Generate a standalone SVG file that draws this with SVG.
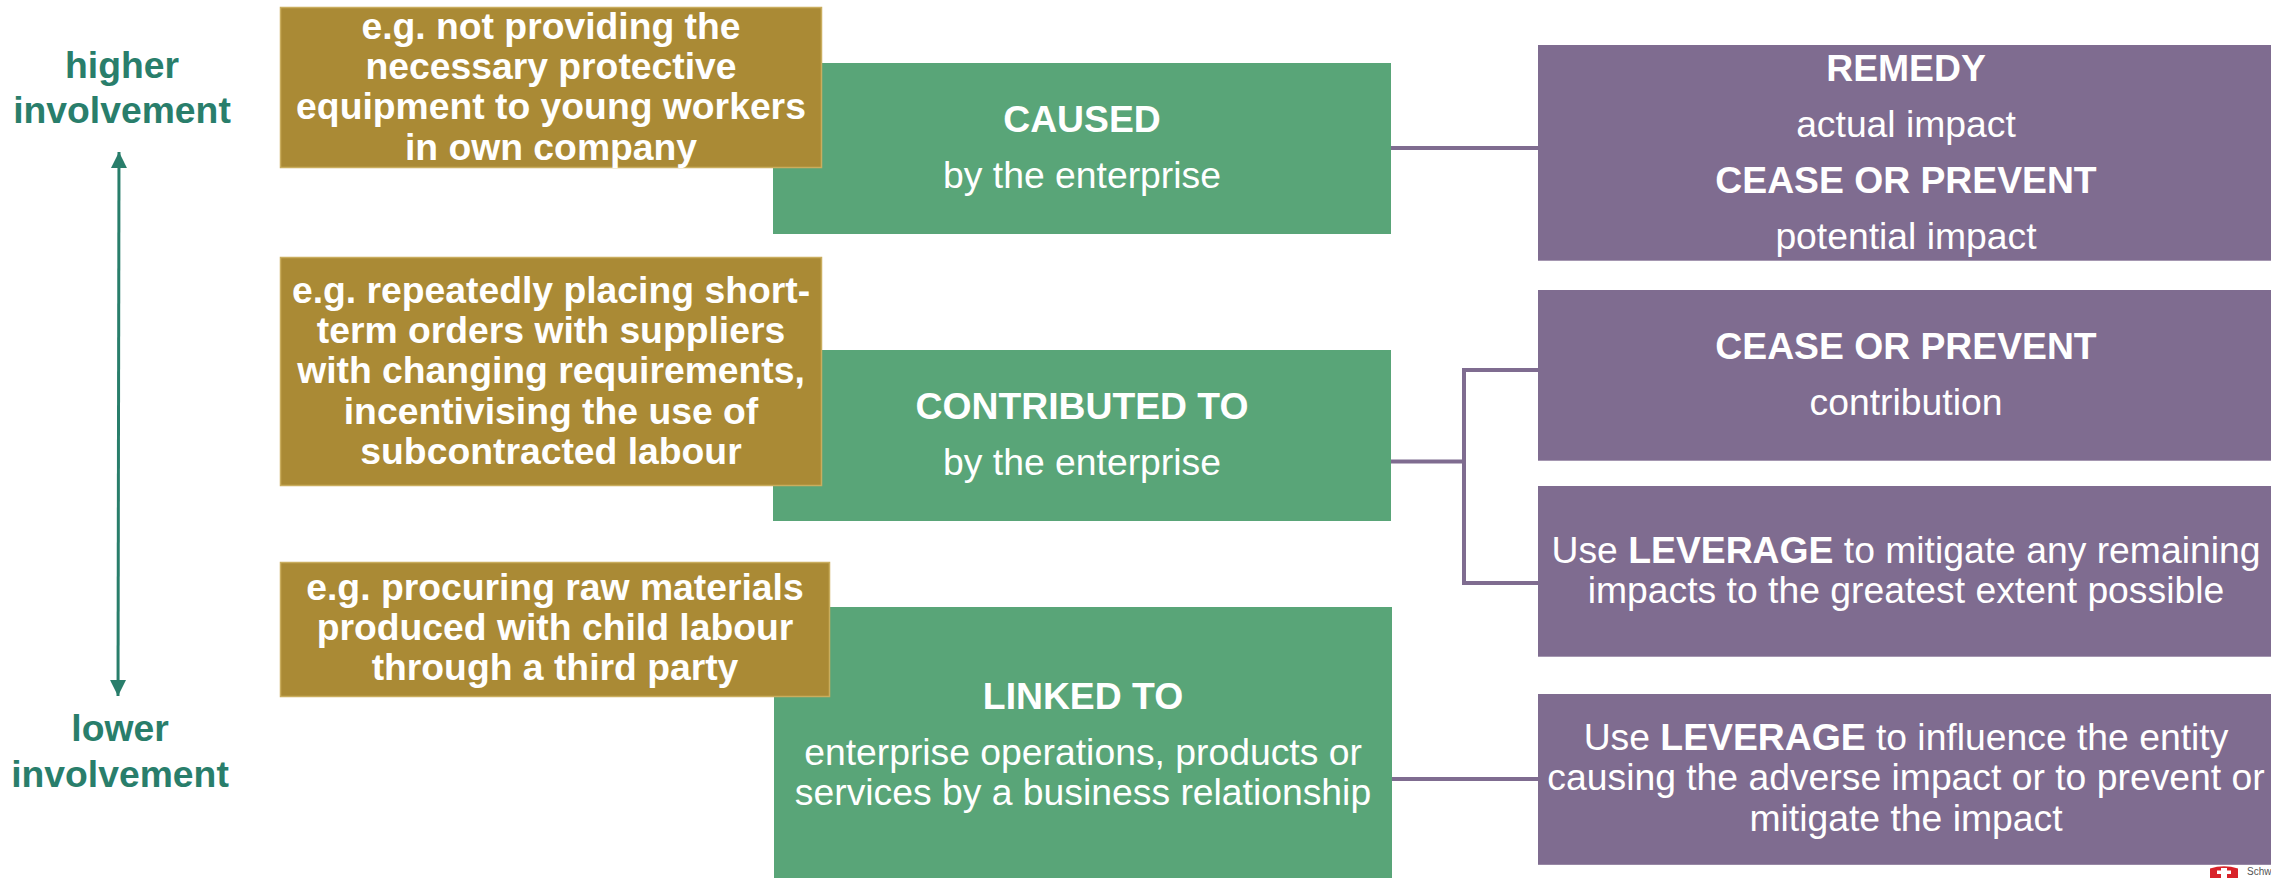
<svg xmlns="http://www.w3.org/2000/svg" width="2271" height="878" viewBox="0 0 2271 878">
<style>
text{font-family:"Liberation Sans",Arial,sans-serif;text-anchor:middle;fill:#fff;font-size:37.3px}
.b{font-weight:700}
.gold{fill:#aa8a35;stroke:#c9ad5e;stroke-width:1.5}
.green{fill:#59a578}
.purple{fill:#7f6c90}
.side{fill:#297e6b;font-weight:700;font-size:37.3px}
.conn{fill:none;stroke:#7f6c90;stroke-width:4}
.axis{stroke:#297e6b;stroke-width:3;fill:none;marker-start:url(#ah);marker-end:url(#ah)}
</style>
<defs><marker id="ah" viewBox="0 0 16 16" refX="16" refY="8" markerWidth="16" markerHeight="16" markerUnits="userSpaceOnUse" orient="auto-start-reverse"><path d="M0 0L16 8L0 16Z" fill="#297e6b"/></marker></defs>
<rect width="2271" height="878" fill="#fff"/>
<g id="connectors">
<path class="conn" d="M1390 148H1538"/>
<path class="conn" d="M1391 461.500H1464M1538 370H1464V583H1538"/>
<path class="conn" d="M1392 779H1538"/>
<path class="axis" d="M119 152L118 696"/>
</g>
<g id="label-higher"><text class="side" x="122" y="78">higher</text><text class="side" x="122" y="122.500">involvement</text></g>
<g id="label-lower"><text class="side" x="120" y="741">lower</text><text class="side" x="120" y="786.500">involvement</text></g>
<g id="caused"><rect class="green" x="773" y="63" width="618" height="171"/><text class="b" x="1082" y="131.500">CAUSED</text><text x="1082" y="187.500">by the enterprise</text></g>
<g id="contributed"><rect class="green" x="773" y="350" width="618" height="171"/><text class="b" x="1082" y="418.500">CONTRIBUTED TO</text><text x="1082" y="474.500">by the enterprise</text></g>
<g id="linked"><rect class="green" x="774" y="607" width="618" height="271"/><text class="b" x="1083" y="708.500">LINKED TO</text><text x="1083" y="764.500">enterprise operations, products or</text><text x="1083" y="804.500">services by a business relationship</text></g>
<g id="example-caused"><rect class="gold" x="280.500" y="7.500" width="541" height="160"/><text class="b" x="551" y="38.500">e.g. not providing the</text><text class="b" x="551" y="78.500">necessary protective</text><text class="b" x="551" y="119">equipment to young workers</text><text class="b" x="551" y="159.500">in own company</text></g>
<g id="example-contributed"><rect class="gold" x="280.500" y="257.500" width="541" height="228"/><text class="b" x="551" y="303">e.g. repeatedly placing short-</text><text class="b" x="551" y="343">term orders with suppliers</text><text class="b" x="551" y="383">with changing requirements,</text><text class="b" x="551" y="423.500">incentivising the use of</text><text class="b" x="551" y="463.500">subcontracted labour</text></g>
<g id="example-linked"><rect class="gold" x="280.500" y="562.500" width="549" height="134"/><text class="b" x="555" y="600">e.g. procuring raw materials</text><text class="b" x="555" y="640">produced with child labour</text><text class="b" x="555" y="680">through a third party</text></g>
<g id="action-1"><rect class="purple" x="1538" y="45" width="733" height="215.700"/><text class="b" x="1906" y="80.500">REMEDY</text><text x="1906" y="136.500">actual impact</text><text class="b" x="1906" y="192.500">CEASE OR PREVENT</text><text x="1906" y="248.500">potential impact</text></g>
<g id="action-2"><rect class="purple" x="1538" y="290" width="733" height="170.700"/><text class="b" x="1906" y="359">CEASE OR PREVENT</text><text x="1906" y="415">contribution</text></g>
<g id="action-3"><rect class="purple" x="1538" y="486" width="733" height="170.700"/><text x="1906" y="562.500">Use <tspan class="b">LEVERAGE</tspan> to mitigate any remaining</text><text x="1906" y="602.500">impacts to the greatest extent possible</text></g>
<g id="action-4"><rect class="purple" x="1538" y="694" width="733" height="170.800"/><text x="1906" y="749.500">Use <tspan class="b">LEVERAGE</tspan> to influence the entity</text><text x="1906" y="790">causing the adverse impact or to prevent or</text><text x="1906" y="830.500">mitigate the impact</text></g>
<g id="logo"><path d="M2210 868.500Q2224 864 2238 868.500V878H2210Z" fill="#d8232a"/><path d="M2221 878V874H2217V870.500H2221V868H2227V870.500H2231V874H2227V878Z" fill="#fff"/><text x="2247" y="875" style="text-anchor:start;font-size:10px;fill:#555">Schw</text></g>
</svg>
